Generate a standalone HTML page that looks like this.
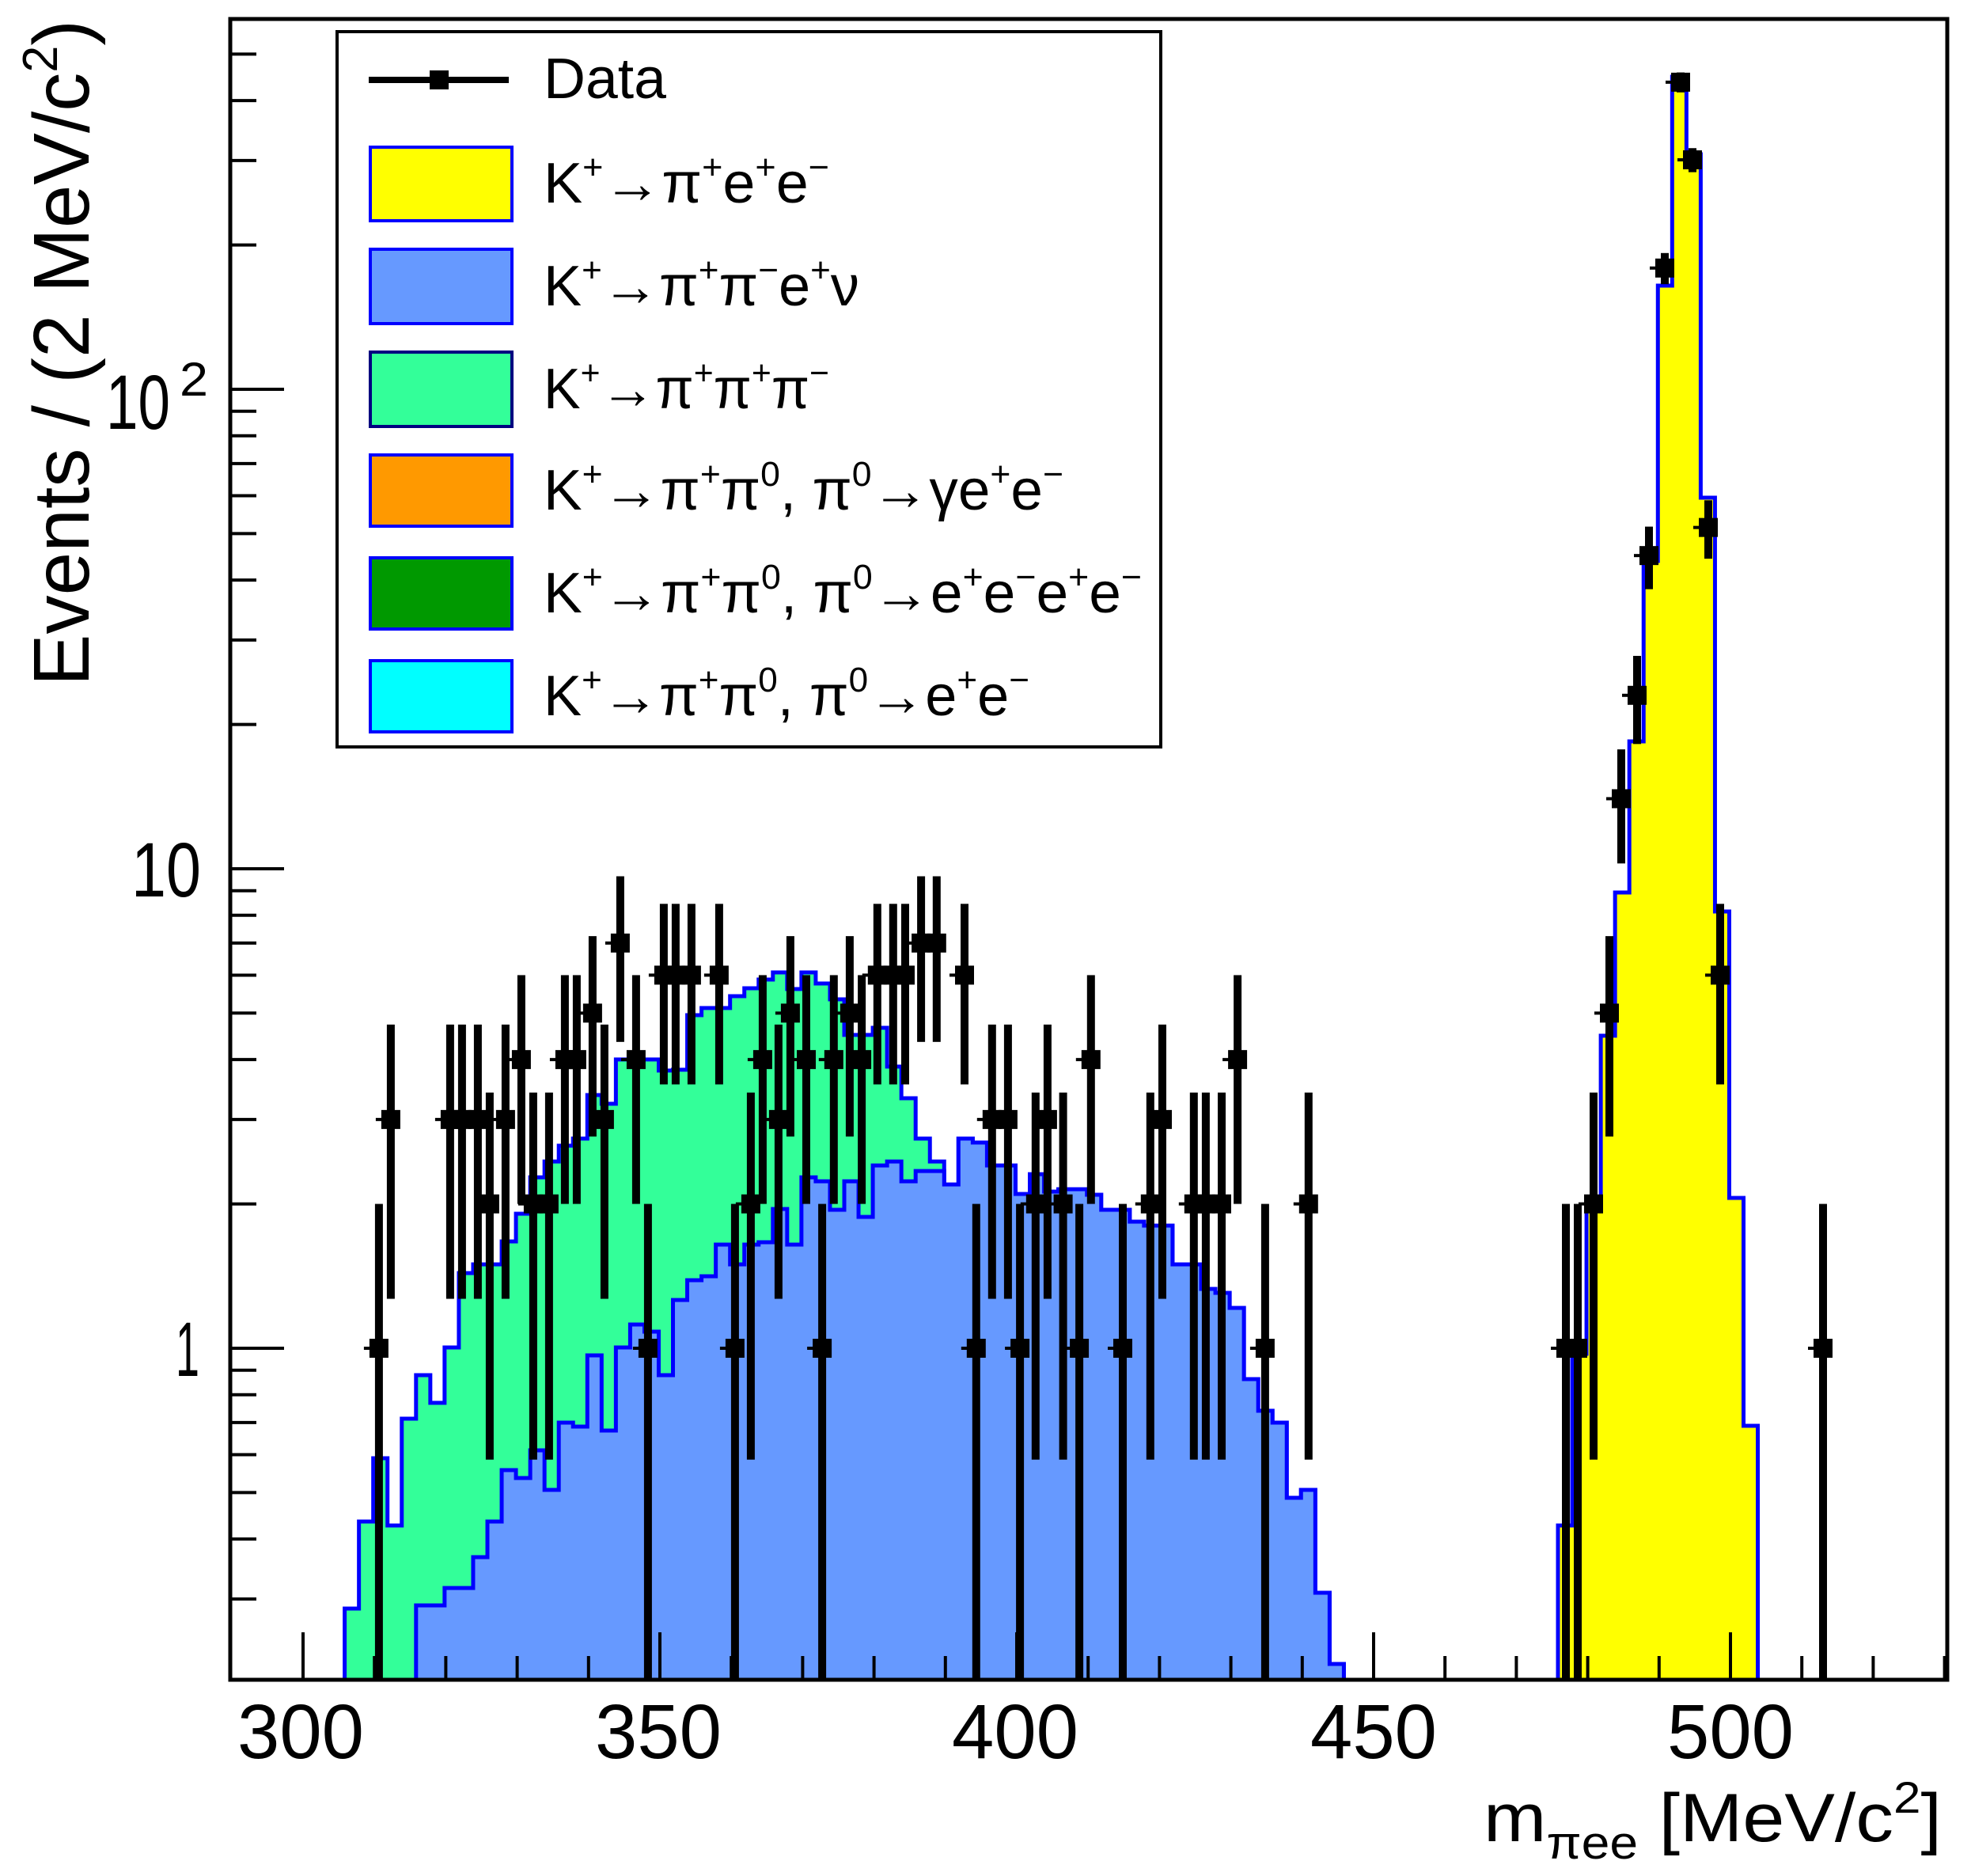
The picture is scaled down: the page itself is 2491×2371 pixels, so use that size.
<!DOCTYPE html>
<html><head><meta charset="utf-8"><style>
html,body{margin:0;padding:0;background:#fff;}
svg{display:block;}
text{font-family:"Liberation Sans",sans-serif;fill:#000;}
</style></head><body>
<svg id="s" xmlns="http://www.w3.org/2000/svg" width="2491" height="2371" viewBox="0 0 2491 2371">
<rect x="0" y="0" width="2491" height="2371" fill="#fff"/>
<g id="hist"></g>
<g id="data"></g>
<g id="axes"></g>
<!-- legend -->
<rect x="426" y="40" width="1041" height="904" fill="#fff" stroke="#000" stroke-width="4"/>
<line x1="466" y1="101" x2="643" y2="101" stroke="#000" stroke-width="8"/>
<rect x="543" y="89" width="24" height="24" fill="#000"/>
<text x="687" y="124" font-size="72" textLength="155" lengthAdjust="spacingAndGlyphs">Data</text>
<rect x="468" y="186" width="179" height="93" fill="#ffff00" stroke="#0000ff" stroke-width="4"/>
<rect x="468" y="315" width="179" height="94" fill="#6699ff" stroke="#0000ff" stroke-width="4"/>
<rect x="468" y="445" width="179" height="94" fill="#33ff99" stroke="#000080" stroke-width="4"/>
<rect x="468" y="575" width="179" height="90" fill="#ff9900" stroke="#0000ff" stroke-width="4"/>
<rect x="468" y="705" width="179" height="90" fill="#009900" stroke="#0000ff" stroke-width="4"/>
<rect x="468" y="835" width="179" height="90" fill="#00ffff" stroke="#0000ff" stroke-width="4"/>
<g font-size="72">
<text x="687" y="256" textLength="361" lengthAdjust="spacingAndGlyphs">K<tspan font-size="44" dy="-30">+</tspan><tspan dy="30">→π</tspan><tspan font-size="44" dy="-30">+</tspan><tspan dy="30">e</tspan><tspan font-size="44" dy="-30">+</tspan><tspan dy="30">e</tspan><tspan font-size="44" dy="-30">−</tspan></text>
<text x="687" y="386" textLength="399" lengthAdjust="spacingAndGlyphs">K<tspan font-size="44" dy="-30">+</tspan><tspan dy="30">→π</tspan><tspan font-size="44" dy="-30">+</tspan><tspan dy="30">π</tspan><tspan font-size="44" dy="-30">−</tspan><tspan dy="30">e</tspan><tspan font-size="44" dy="-30">+</tspan><tspan dy="30">ν</tspan></text>
<text x="687" y="516" textLength="361" lengthAdjust="spacingAndGlyphs">K<tspan font-size="44" dy="-30">+</tspan><tspan dy="30">→π</tspan><tspan font-size="44" dy="-30">+</tspan><tspan dy="30">π</tspan><tspan font-size="44" dy="-30">+</tspan><tspan dy="30">π</tspan><tspan font-size="44" dy="-30">−</tspan></text>
<text x="687" y="644" textLength="657" lengthAdjust="spacingAndGlyphs">K<tspan font-size="44" dy="-30">+</tspan><tspan dy="30">→π</tspan><tspan font-size="44" dy="-30">+</tspan><tspan dy="30">π</tspan><tspan font-size="44" dy="-30">0</tspan><tspan dy="30">, π</tspan><tspan font-size="44" dy="-30">0</tspan><tspan dy="30">→γe</tspan><tspan font-size="44" dy="-30">+</tspan><tspan dy="30">e</tspan><tspan font-size="44" dy="-30">−</tspan></text>
<text x="687" y="774" textLength="756" lengthAdjust="spacingAndGlyphs">K<tspan font-size="44" dy="-30">+</tspan><tspan dy="30">→π</tspan><tspan font-size="44" dy="-30">+</tspan><tspan dy="30">π</tspan><tspan font-size="44" dy="-30">0</tspan><tspan dy="30">, π</tspan><tspan font-size="44" dy="-30">0</tspan><tspan dy="30">→e</tspan><tspan font-size="44" dy="-30">+</tspan><tspan dy="30">e</tspan><tspan font-size="44" dy="-30">−</tspan><tspan dy="30">e</tspan><tspan font-size="44" dy="-30">+</tspan><tspan dy="30">e</tspan><tspan font-size="44" dy="-30">−</tspan></text>
<text x="687" y="904" textLength="614" lengthAdjust="spacingAndGlyphs">K<tspan font-size="44" dy="-30">+</tspan><tspan dy="30">→π</tspan><tspan font-size="44" dy="-30">+</tspan><tspan dy="30">π</tspan><tspan font-size="44" dy="-30">0</tspan><tspan dy="30">, π</tspan><tspan font-size="44" dy="-30">0</tspan><tspan dy="30">→e</tspan><tspan font-size="44" dy="-30">+</tspan><tspan dy="30">e</tspan><tspan font-size="44" dy="-30">−</tspan></text>
</g>
<!-- axis labels -->
<text transform="translate(112,25) rotate(-90)" text-anchor="end" font-size="100" textLength="842" lengthAdjust="spacingAndGlyphs">Events / (2 MeV/c<tspan font-size="62" dy="-40">2</tspan><tspan dy="40">)</tspan></text>
<text x="1875" y="2327" font-size="86" textLength="579" lengthAdjust="spacingAndGlyphs">m<tspan font-size="58" dy="22">πee</tspan><tspan dy="-22"> [MeV/c</tspan><tspan font-size="56" dy="-36">2</tspan><tspan dy="36">]</tspan></text>
<g font-size="97" text-anchor="middle">
<text x="380" y="2222" textLength="160" lengthAdjust="spacingAndGlyphs">300</text>
<text x="832" y="2222" textLength="160" lengthAdjust="spacingAndGlyphs">350</text>
<text x="1283" y="2222" textLength="160" lengthAdjust="spacingAndGlyphs">400</text>
<text x="1736" y="2222" textLength="160" lengthAdjust="spacingAndGlyphs">450</text>
<text x="2187" y="2222" textLength="160" lengthAdjust="spacingAndGlyphs">500</text>
</g>
<g font-size="97" text-anchor="end">
<text x="252" y="1739" textLength="30" lengthAdjust="spacingAndGlyphs">1</text>
<text x="254" y="1133" textLength="88" lengthAdjust="spacingAndGlyphs">10</text>
<text x="215" y="542" textLength="81" lengthAdjust="spacingAndGlyphs">10</text>
<text x="263" y="500" font-size="60" textLength="36" lengthAdjust="spacingAndGlyphs">2</text>
</g>
</svg>
<script>
(function(){
var NS="http://www.w3.org/2000/svg";
var L=291,T=24,R=2461,B=2123;
function Y(v){return 1704-606*Math.log10(v);}
function e(k){return 1969+18.04*k;}
function el(p,tag,a){var n=document.createElementNS(NS,tag);for(var k in a)n.setAttribute(k,a[k]);p.appendChild(n);return n;}
var green={"-85":2033,"-84":1923,"-83":1843,"-82":1928,"-81":1793,"-80":1738,"-79":1773,"-78":1703,"-77":1609,"-76":1598,"-75":1598,"-74":1569,"-73":1534,"-72":1488,"-71":1468,"-70":1448,"-69":1439,"-68":1384,"-67":1395,"-66":1339,"-65":1339,"-64":1339,"-63":1353,"-62":1352,"-61":1283,"-60":1274,"-59":1274,"-58":1259,"-57":1249,"-56":1238,"-55":1229,"-54":1250,"-53":1229,"-52":1243,"-51":1263,"-50":1308,"-49":1308,"-48":1299,"-47":1348,"-46":1388,"-45":1439,"-44":1468};
var blueArr=[2029,2029,2007,2007,1968,1923,1858,1868,1833,1883,1798,1803,1713,1808,1703,1674,1683,1738,1643,1618,1613,1573,1598,1573,1570,1528,1573,1488,1493,1529,1493,1538,1473,1468,1493,1480,1480,1497,1439,1444,1473,1473,1509,1484,1506,1503,1503,1510,1529,1529,1544,1549,1549,1598,1598,1629,1634,1653,1743,1783,1798,1893,1883,2013,2103];
var blue={};for(var i=0;i<blueArr.length;i++)blue[-80+i]=blueArr[i];
var gtot={};for(var k=-85;k<=-16;k++){gtot[k]=(green[k]!==undefined)?green[k]:blue[k];}
var yel=[1928,1711,1523,1309,1128,937,709,361,97,195,629,1152,1514,1802];
var yh={};for(var i=0;i<yel.length;i++)yh[i]=yel[i];
function step(h,k0,k1){var d="M"+e(k0)+","+B;for(var k=k0;k<=k1;k++){d+=" L"+e(k)+","+h[k]+" L"+e(k+1)+","+h[k];}d+=" L"+e(k1+1)+","+B;return d;}
var g=document.getElementById("hist");
el(g,"path",{d:step(gtot,-85,-16)+" Z",fill:"#33ff99",stroke:"none"});
el(g,"path",{d:step(gtot,-85,-16),fill:"none",stroke:"#0000ff","stroke-width":5});
el(g,"path",{d:step(blue,-80,-16)+" Z",fill:"#6699ff",stroke:"none"});
el(g,"path",{d:step(blue,-80,-16),fill:"none",stroke:"#0000ff","stroke-width":5});
el(g,"path",{d:step(yh,0,13)+" Z",fill:"#ffff00",stroke:"none"});
el(g,"path",{d:step(yh,0,13),fill:"none",stroke:"#0000ff","stroke-width":5});
var pts=[[478.9,1],[493.9,3],[568.9,3],[583.9,3],[603.9,3],[618.9,2],[638.9,3],[658.9,4],[673.9,2],[693.9,2],[713.9,4],[728.9,4],[748.9,5],[763.9,3],[783.9,7],[803.9,4],[818.9,1],[838.9,6],[853.9,6],[873.9,6],[908.9,6],[928.9,1],[948.9,2],[963.9,4],[983.9,3],
[998.9,5],[1019,4],[1039.1,1],[1053.8,4],[1073.9,5],[1089.1,4],[1108.8,6],[1128.8,6],[1144,6],[1164.1,7],[1183.8,7],[1219,6],[1233.8,1],[1253.8,3],[1273.9,3],[1289.1,1],[1308.8,2],[1323.9,3],[1343.6,2],[1364.1,1],[1378.8,4],[1419,1],[1453.8,2],[1469,3],[1508.8,2],[1523.9,2],[1544,2],[1564.1,4],[1598.9,1],[1653.8,2],
[1979,1],[1994,1],[2014,2],[2034,5],[2049,14],[2069,23],[2084,45],[2104,179],[2124,437],[2139,301],[2159,51.5],[2174,6],[2304,1]];
var dg=document.getElementById("data");
pts.forEach(function(p){var x=p[0],n=p[1],s=Math.sqrt(n);var lo=n-s;var y0=lo>0.2?Y(lo):B;var y1=Y(n+s);var y=Y(n);
el(dg,"rect",{x:x-5,y:y1,width:10,height:y0-y1,fill:"#000"});
el(dg,"rect",{x:x-12,y:y-12,width:24,height:24,fill:"#000"});
el(dg,"rect",{x:x-19,y:y-2,width:8,height:4,fill:"#000"});});
var ax=document.getElementById("axes");
el(ax,"rect",{x:L,y:T,width:R-L,height:B-T,fill:"none",stroke:"#000","stroke-width":5});
function X(m){return 1736+(m-450)*9.02;}
for(var m=290;m<=530;m+=10){var x=X(m);if(x<L+2||x>R-2)continue;var len=(m%50==0)?60:30;el(ax,"line",{x1:x,y1:B,x2:x,y2:B-len,stroke:"#000","stroke-width":4});}
var yt=[];for(var d=0.1;d<=100;d*=10){for(var j=1;j<=9;j++){var v=d*j;var y=Y(v);if(y>B-2||y<T+2)continue;el(ax,"line",{x1:L,y1:y,x2:L+(j==1?68:33),y2:y,stroke:"#000","stroke-width":4});}}
})();
</script>
</body></html>
